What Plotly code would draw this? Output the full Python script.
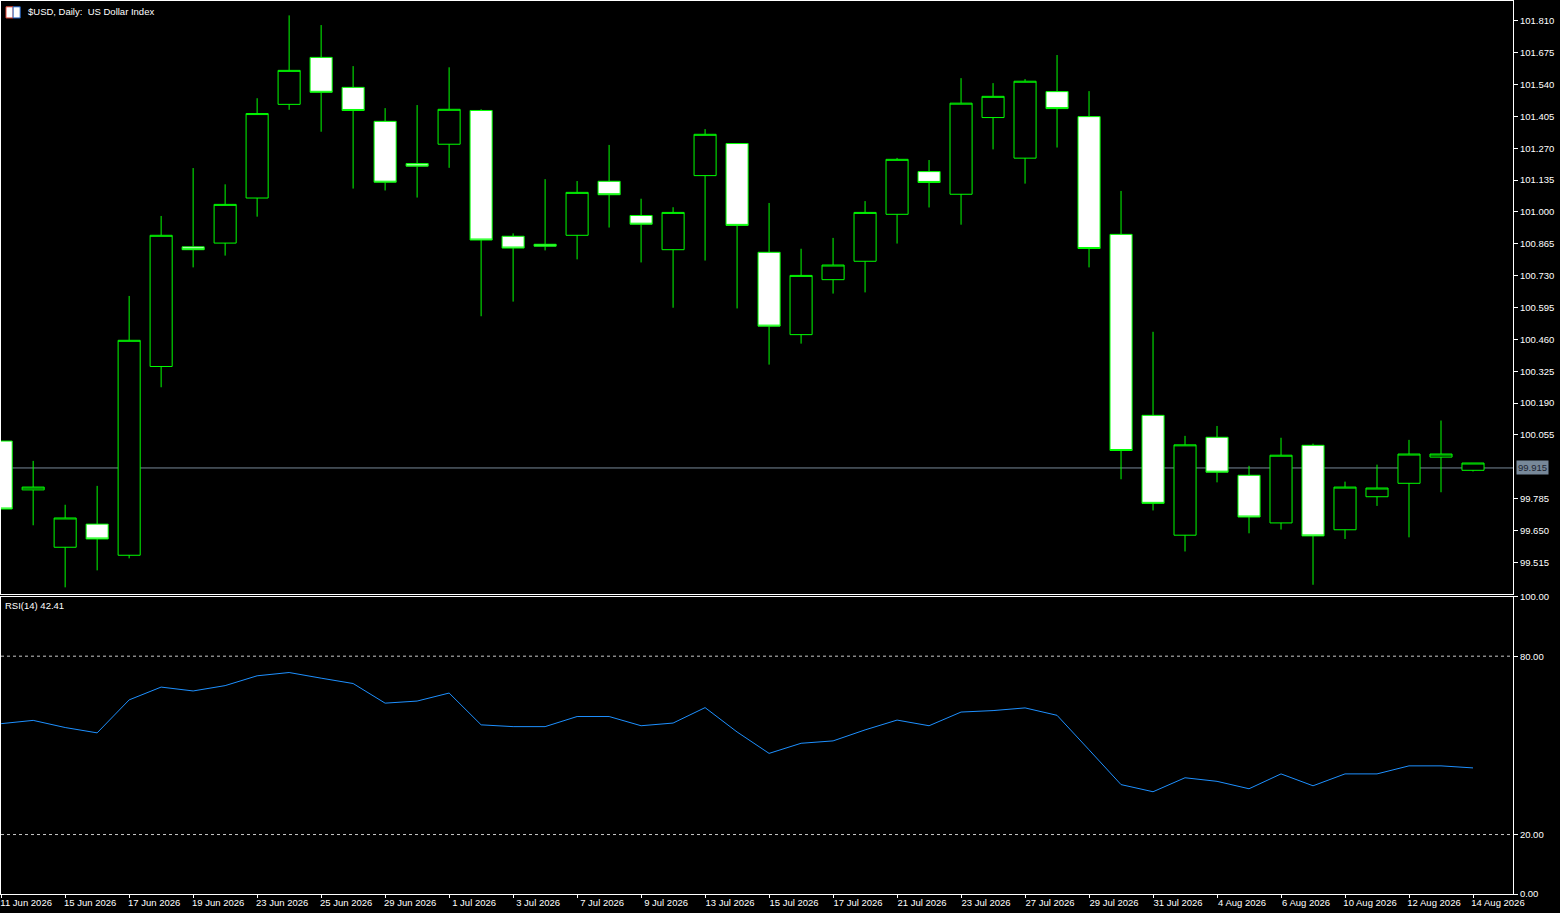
import plotly.graph_objects as go
from plotly.subplots import make_subplots

# daily bars, 11 Jun 2026 .. 14 Aug 2026
dates = ["11 Jun 2026", "12 Jun 2026", "15 Jun 2026", "16 Jun 2026", "17 Jun 2026", "18 Jun 2026",
         "19 Jun 2026", "22 Jun 2026", "23 Jun 2026", "24 Jun 2026", "25 Jun 2026", "26 Jun 2026",
         "29 Jun 2026", "30 Jun 2026", "1 Jul 2026", "2 Jul 2026", "3 Jul 2026", "6 Jul 2026",
         "7 Jul 2026", "8 Jul 2026", "9 Jul 2026", "10 Jul 2026", "13 Jul 2026", "14 Jul 2026",
         "15 Jul 2026", "16 Jul 2026", "17 Jul 2026", "20 Jul 2026", "21 Jul 2026", "22 Jul 2026",
         "23 Jul 2026", "24 Jul 2026", "27 Jul 2026", "28 Jul 2026", "29 Jul 2026", "30 Jul 2026",
         "31 Jul 2026", "3 Aug 2026", "4 Aug 2026", "5 Aug 2026", "6 Aug 2026", "7 Aug 2026",
         "10 Aug 2026", "11 Aug 2026", "12 Aug 2026", "13 Aug 2026", "14 Aug 2026"]

opens = [100.029, 99.822, 99.579, 99.677, 99.545, 100.345, 100.852, 100.868, 101.059, 101.456,
         101.655, 101.528, 101.384, 101.205, 101.287, 101.430, 100.897, 100.863, 100.901, 101.130,
         100.985, 100.840, 101.154, 101.290, 100.829, 100.480, 100.713, 100.791, 100.990, 101.171,
         101.075, 101.400, 101.228, 101.510, 101.404, 100.905, 100.138, 99.630, 100.045, 99.884,
         99.682, 100.011, 99.653, 99.793, 99.850, 99.961, 99.905]
highs = [100.029, 99.945, 99.759, 99.839, 100.644, 100.983, 101.186, 101.117, 101.482, 101.833,
         101.792, 101.618, 101.440, 101.453, 101.613, 101.435, 100.909, 101.139, 101.131, 101.284,
         101.056, 101.020, 101.351, 101.292, 101.038, 100.844, 100.890, 101.046, 101.229, 101.220,
         101.567, 101.546, 101.563, 101.665, 101.512, 101.089, 100.492, 100.051, 100.093, 99.924,
         100.043, 100.018, 99.857, 99.929, 100.034, 100.116, 99.936]
lows = [99.741, 99.672, 99.409, 99.481, 99.532, 100.257, 100.765, 100.815, 100.980, 101.433,
        101.340, 101.099, 101.091, 101.061, 101.187, 100.558, 100.620, 100.837, 100.799, 100.934,
        100.786, 100.594, 100.794, 100.591, 100.353, 100.442, 100.654, 100.659, 100.866, 101.019,
        100.946, 101.265, 101.120, 101.273, 100.765, 99.867, 99.735, 99.561, 99.854, 99.638,
        99.654, 99.420, 99.614, 99.754, 99.621, 99.812, 99.900]
closes = [99.741, 99.834, 99.703, 99.614, 100.456, 100.901, 100.840, 101.032, 101.417, 101.600,
          101.507, 101.430, 101.126, 101.194, 101.435, 100.881, 100.847, 100.855, 101.083, 101.073,
          100.948, 100.998, 101.329, 100.943, 100.516, 100.731, 100.775, 100.998, 101.223, 101.125,
          101.461, 101.490, 101.554, 101.438, 100.845, 99.989, 99.765, 100.013, 99.897, 99.707,
          99.969, 99.627, 99.834, 99.830, 99.974, 99.974, 99.936]

rsi = [57.3, 58.4, 56.0, 54.2, 65.3, 69.6, 68.3, 70.1, 73.4, 74.5,
       72.6, 70.8, 64.2, 64.9, 67.6, 56.9, 56.3, 56.3, 59.7, 59.7,
       56.6, 57.5, 62.7, 54.5, 47.3, 50.7, 51.5, 55.2, 58.5, 56.6,
       61.2, 61.7, 62.6, 60.1, 48.5, 36.8, 34.4, 39.1, 37.9, 35.4,
       40.4, 36.4, 40.4, 40.4, 43.1, 43.1, 42.41]

last_price = 99.915
price_ticks = [101.810, 101.675, 101.540, 101.405, 101.270, 101.135, 101.000, 100.865, 100.730,
               100.595, 100.460, 100.325, 100.190, 100.055, 99.785, 99.650, 99.515]
rsi_ticks = [100, 80, 20, 0]
rsi_levels = [80, 20]

bars = list(range(len(dates)))
font = "Liberation Sans"
fsize = 9.5
green = "#00ff00"

fig = make_subplots(rows=2, cols=1, shared_xaxes=True, vertical_spacing=0.003)

fig.add_trace(go.Candlestick(
    x=bars, open=opens, high=highs, low=lows, close=closes,
    increasing=dict(line=dict(color=green, width=1), fillcolor="black"),
    decreasing=dict(line=dict(color=green, width=1), fillcolor="white"),
    whiskerwidth=0, showlegend=False, hoverinfo="skip"), row=1, col=1)

fig.add_trace(go.Scatter(
    x=bars, y=rsi, mode="lines", line=dict(color="#1e90ff", width=1),
    showlegend=False, hoverinfo="skip"), row=2, col=1)

# current price line + label
fig.add_hline(y=last_price, row=1, col=1, line=dict(color="#778899", width=1), layer="below")
fig.add_annotation(x=1, xref="paper", y=last_price, yref="y", xanchor="left", xshift=3,
                   text=f"{last_price:.3f}", showarrow=False, bgcolor="#778899",
                   font=dict(family=font, size=fsize, color="#1c2430"), borderpad=1)

for lv in rsi_levels:
    fig.add_hline(y=lv, row=2, col=1, line=dict(color="#c8c8c8", width=1, dash="dot"))

axis_common = dict(showgrid=False, zeroline=False, showline=True, linecolor="white",
                   linewidth=1, mirror=True, tickcolor="white", ticklen=4,
                   tickfont=dict(family=font, size=fsize, color="white"))

fig.update_xaxes(**axis_common, range=[-0.005, 47.25], rangeslider_visible=False)
fig.update_xaxes(showticklabels=False, ticks="", row=1, col=1)
fig.update_xaxes(ticks="outside", tickvals=bars[::2], ticktext=dates[::2], ticklen=3,
                 ticklabelshift=25, ticklabelstandoff=-3, row=2, col=1)

fig.update_yaxes(**axis_common, side="right", ticks="outside")
fig.update_yaxes(range=[99.3795, 101.894], tickvals=price_ticks, tickformat=".3f",
                 domain=[0.3356, 1.0], row=1, col=1)
fig.update_yaxes(range=[0, 100], tickvals=rsi_ticks, tickformat=".2f",
                 domain=[0.0, 0.3329], row=2, col=1)

# header texts
fig.add_annotation(x=0.0165, xref="paper", y=0.9877, yref="paper", xanchor="left",
                   yanchor="middle", text="$USD, Daily:\u00a0 US Dollar Index", showarrow=False,
                   font=dict(family=font, size=fsize, color="white"))
fig.add_annotation(x=0.0013, xref="paper", y=0.3236, yref="paper", xanchor="left",
                   yanchor="middle", text=f"RSI(14) {rsi[-1]:.2f}", showarrow=False,
                   font=dict(family=font, size=fsize, color="white"))
# small symbol icon
fig.add_shape(type="rect", xref="paper", yref="paper", x0=0.0033, x1=0.0080, y0=0.981, y1=0.9935,
              line=dict(color="#e04030", width=1), fillcolor="white")
fig.add_shape(type="rect", xref="paper", yref="paper", x0=0.0080, x1=0.0127, y0=0.981, y1=0.9935,
              line=dict(color="#2060c0", width=1), fillcolor="white")

fig.update_layout(
    width=1560, height=913,
    margin=dict(l=1, r=47, t=1, b=19, autoexpand=False),
    paper_bgcolor="black", plot_bgcolor="black",
    boxgap=0.31, boxgroupgap=0,
    hovermode=False, showlegend=False,
)

fig.write_html("out.html", config={"displayModeBar": False},
               post_script="document.body.style.margin='0';document.body.style.background='black';"
                           "document.body.style.overflow='hidden';")
